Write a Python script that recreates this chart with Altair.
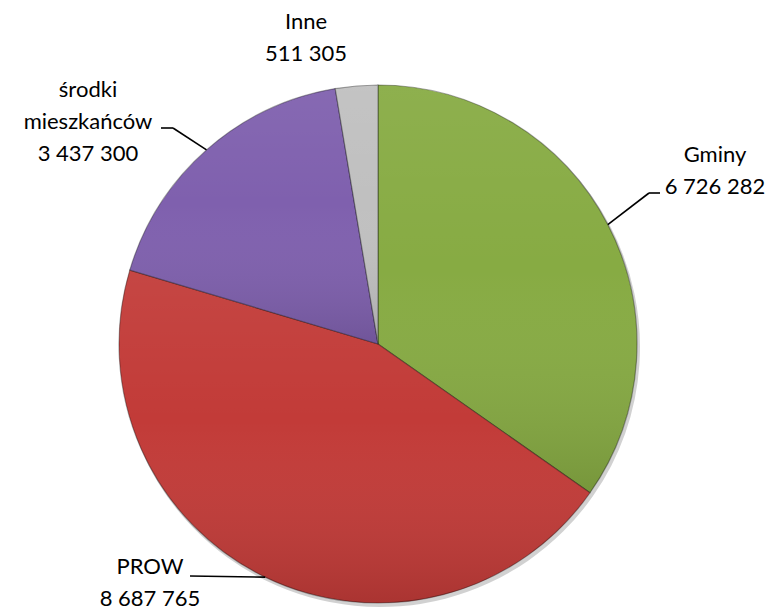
import math
import altair as alt
import pandas as pd

# ---- data ----
categories = ["Gminy", "PROW", "środki mieszkańców", "Inne"]
values = [6726282, 8687765, 3437300, 511305]
label_lines = [["Gminy"], ["PROW"], ["środki", "mieszkańców"], ["Inne"]]
colors = ["#87AB43", "#C23B38", "#7F60AE", "#C0C0C0"]

# ---- layout ----
W, H = 760, 600
CX, CY, R = 370, 336, 259
FONT = "Lato"
FS = 22
LINE = 32
# label block: (center x, first baseline y)
label_pos = {
    "Gminy": (707, 154),
    "PROW": (142, 566),
    "środki mieszkańców": (80, 89),
    "Inne": (298, 21),
}
# leader line elbow points after the slice-edge start point (None = no leader)
leader_pts = {
    "Gminy": [(641, 185), (652, 185)],
    "PROW": [(182, 568)],
    "środki mieszkańców": [(165, 120), (153, 120)],
    "Inne": None,
}


def fmt(v):
    return f"{v:,}".replace(",", " ")


total = sum(values)
pie_df = pd.DataFrame({"cat": categories, "val": values, "order": list(range(len(values)))})

# text rows
rows = []
for cat, lines, v in zip(categories, label_lines, values):
    x0, y0 = label_pos[cat]
    allines = lines + [fmt(v)]
    for i, t in enumerate(allines):
        rows.append({"x": x0, "y": y0 + i * LINE, "t": t})
text_df = pd.DataFrame(rows)

# leader segments, starting at the middle of each slice edge
segs = []
cum = 0
for cat, v in zip(categories, values):
    mid = (cum + v / 2) / total * 2 * math.pi
    cum += v
    pts = leader_pts[cat]
    if not pts:
        continue
    sx = CX + R * math.sin(mid)
    sy = CY - R * math.cos(mid)
    chain = [(sx, sy)] + pts
    for (a, b), (c, d) in zip(chain[:-1], chain[1:]):
        segs.append({"x": a, "y": b, "x2": c, "y2": d})
seg_df = pd.DataFrame(segs)

color_scale = alt.Scale(domain=categories, range=colors)

shadow = alt.Chart(pie_df).mark_arc(radius=R + 1, fill="#000000", opacity=0.18).encode(
    theta=alt.Theta("val:Q", stack=True),
    order=alt.Order("order:Q"),
    x=alt.value(CX + 2),
    y=alt.value(CY + 3),
)

pie = alt.Chart(pie_df).mark_arc(radius=R, strokeWidth=1.2, strokeOpacity=0.35, stroke="#000000").encode(
    theta=alt.Theta("val:Q", stack=True),
    order=alt.Order("order:Q"),
    color=alt.Color("cat:N", scale=color_scale, sort=categories, legend=None),
    x=alt.value(CX),
    y=alt.value(CY),
)

shade = alt.Chart(pie_df).mark_arc(
    radius=R,
    fill=alt.Gradient(
        gradient="linear",
        stops=[
            alt.GradientStop(color="rgba(255,255,255,0.06)", offset=0),
            alt.GradientStop(color="rgba(255,255,255,0.0)", offset=0.45),
            alt.GradientStop(color="rgba(0,0,0,0.12)", offset=1),
        ],
        x1=0, x2=0, y1=0, y2=1,
    ),
).encode(
    theta=alt.Theta("val:Q", stack=True),
    order=alt.Order("order:Q"),
    x=alt.value(CX),
    y=alt.value(CY),
)

leaders = alt.Chart(seg_df).mark_rule(color="#000000", strokeWidth=1.6).encode(
    x=alt.X("x:Q", scale=None, axis=None),
    y=alt.Y("y:Q", scale=None, axis=None),
    x2="x2:Q",
    y2="y2:Q",
)

labels = alt.Chart(text_df).mark_text(
    font=FONT, fontSize=FS, color="#000000", align="center", baseline="alphabetic"
).encode(
    x=alt.X("x:Q", scale=None, axis=None),
    y=alt.Y("y:Q", scale=None, axis=None),
    text="t:N",
)

chart = (
    alt.layer(shadow, pie, shade, leaders, labels)
    .resolve_scale(x="independent", y="independent")
    .properties(width=W, height=H, padding=0, autosize=alt.AutoSizeParams(type="none"))
    .configure_view(stroke=None)
)

chart.save("out.html", embed_options={"renderer": "svg", "actions": False})
